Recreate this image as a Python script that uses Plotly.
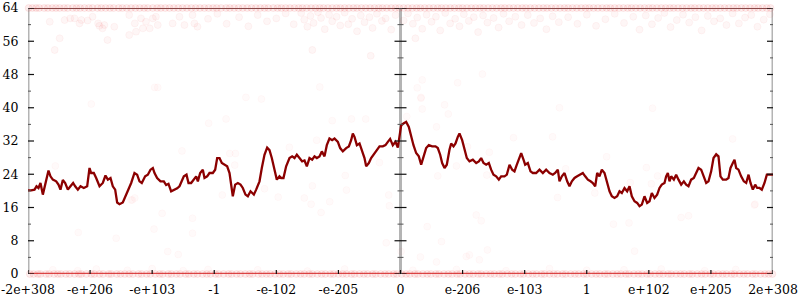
import plotly.graph_objects as go

# ---------------- data ----------------
tick_pos = [-6, -5, -4, -3, -2, -1, 0, 1, 2, 3, 4, 5, 6]
tick_text = ["-2e+308", "-e+206", "-e+103", "-1", "-e-102", "-e-205", "0",
             "e-206", "e-103", "1", "e+102", "e+205", "2e+308"]
y_ticks = [0, 8, 16, 24, 32, 40, 48, 56, 64]
y_minor = [4, 12, 20, 28, 36, 44, 52, 60]

# moving-average line
line_x = [-6.0, -5.949, -5.895, -5.863, -5.831, -5.799, -5.761, -5.734, -5.702, -5.670,
          -5.638, -5.600, -5.546, -5.509, -5.477, -5.439, -5.401, -5.358, -5.316, -5.273,
          -5.240, -5.197, -5.154, -5.101, -5.047, -5.009, -4.983, -4.940, -4.902, -4.848,
          -4.795, -4.752, -4.714, -4.671, -4.634, -4.596, -4.564, -4.526, -4.473, -4.430,
          -4.392, -4.338, -4.285, -4.242, -4.204, -4.167, -4.113, -4.070, -4.027, -3.989,
          -3.962, -3.920, -3.866, -3.812, -3.775, -3.737, -3.694, -3.640, -3.597, -3.560,
          -3.533, -3.490, -3.447, -3.415, -3.372, -3.329, -3.291, -3.264, -3.227, -3.184,
          -3.157, -3.114, -3.077, -3.023, -2.985, -2.953, -2.915, -2.878, -2.835, -2.792,
          -2.754, -2.728, -2.701, -2.663, -2.620, -2.577, -2.540, -2.497, -2.459, -2.416,
          -2.362, -2.325, -2.271, -2.234, -2.191, -2.148, -2.110, -2.073, -2.030, -1.992,
          -1.949,
          -1.922, -1.885, -1.842, -1.788, -1.745, -1.707, -1.670, -1.627, -1.584, -1.546,
          -1.509, -1.466, -1.423, -1.385, -1.348, -1.305, -1.267, -1.224, -1.187, -1.144,
          -1.101, -1.063, -1.009, -0.972, -0.929, -0.875, -0.832, -0.795, -0.768, -0.741,
          -0.703, -0.660, -0.617, -0.580, -0.553, -0.510, -0.473, -0.435, -0.392, -0.338,
          -0.285, -0.242, -0.204, -0.167, -0.124, -0.081, -0.043, -0.016, 0.011, 0.048,
          0.091, 0.134, 0.172, 0.209, 0.252, 0.295, 0.333, 0.370, 0.413, 0.456,
          0.510, 0.564, 0.601, 0.639, 0.671, 0.709, 0.746, 0.789, 0.816, 0.854,
          0.886, 0.923, 0.950, 0.993, 1.031, 1.068, 1.111, 1.165, 1.219, 1.262,
          1.299, 1.337, 1.380, 1.423, 1.460, 1.498, 1.541, 1.584, 1.621, 1.675,
          1.713, 1.756, 1.799, 1.836, 1.874, 1.917, 1.944, 1.981,
          2.008, 2.051, 2.094, 2.132, 2.185, 2.239, 2.293, 2.346, 2.400, 2.454,
          2.491, 2.534, 2.561, 2.599, 2.642, 2.685, 2.722, 2.760, 2.803, 2.846,
          2.883, 2.937, 2.975, 3.018, 3.061, 3.098, 3.136, 3.168, 3.205, 3.243,
          3.286, 3.329, 3.367, 3.404, 3.447, 3.490, 3.528, 3.565, 3.608, 3.651,
          3.689, 3.726, 3.769, 3.812, 3.850, 3.887, 3.930, 3.973, 4.011, 4.048,
          4.091, 4.134, 4.172, 4.209, 4.252, 4.279, 4.306, 4.333, 4.360, 4.403,
          4.440, 4.478, 4.521, 4.564, 4.601, 4.639, 4.682, 4.725, 4.762, 4.800,
          4.843, 4.886, 4.924, 4.961, 5.004, 5.042, 5.085, 5.122, 5.154, 5.192,
          5.246, 5.283, 5.315, 5.353, 5.380, 5.407, 5.444, 5.487, 5.530, 5.568,
          5.606, 5.638, 5.675, 5.713, 5.745, 5.783, 5.820, 5.863, 5.901, 5.944, 6.0]
line_y = [20.1, 20.1, 20.3, 21.1, 20.7, 21.9, 19.1, 20.9, 22.3, 24.9,
          23.5, 22.7, 22.3, 21.5, 20.3, 22.6, 21.9, 20.3, 21.1, 21.9,
          21.1, 20.3, 21.1, 20.7, 21.1, 25.5, 24.3, 24.3, 23.1, 21.1,
          21.9, 23.7, 22.7, 23.1, 21.1, 20.3, 17.2, 16.8, 17.2, 18.7,
          20.3, 21.9, 24.3, 23.9, 22.3, 21.9, 23.5, 23.9, 25.1, 25.5,
          24.3, 23.1, 22.3, 22.3, 21.4, 21.7, 19.9, 20.3, 20.6, 21.1,
          21.9, 23.5, 23.9, 21.9, 21.9, 22.7, 23.5, 22.3, 24.3, 25.1,
          23.1, 23.5, 24.3, 24.3, 25.1, 27.9, 27.9, 26.7, 26.3, 25.9,
          24.3, 21.9, 18.7, 21.5, 21.9, 21.5, 20.7, 19.1, 18.7, 19.9,
          19.1, 20.3, 22.3, 25.5, 28.7, 30.4, 29.8, 27.9, 25.5, 22.7,
          23.5,
          23.1, 23.1, 25.9, 27.9, 28.3, 27.9, 28.7, 27.9, 27.1, 27.3,
          25.9, 27.9, 27.5, 28.3, 27.9, 28.3, 29.5, 28.3, 31.0, 32.6,
          32.2, 32.6, 31.8, 30.3, 29.5, 30.3, 30.7, 32.2, 33.8, 33.0,
          31.0, 31.4, 29.5, 27.9, 25.9, 26.7, 27.9, 28.7, 29.5, 30.7,
          30.7, 31.0, 31.8, 32.5, 31.0, 31.8, 30.4, 33.0, 35.8, 36.2,
          36.6, 35.4, 33.0, 31.0, 29.1, 28.3, 26.3, 27.9, 30.3, 31.0,
          30.7, 30.7, 30.3, 28.7, 26.7, 25.5, 26.3, 29.9, 31.4, 30.7,
          31.4, 33.0, 33.8, 32.2, 30.3, 27.9, 27.1, 27.5, 26.7, 27.1,
          27.9, 26.7, 26.3, 26.7, 25.1, 23.9, 23.5, 22.7, 23.5, 23.5,
          23.9, 26.3, 25.1, 24.7, 26.3, 28.3, 29.1, 27.5,
          26.3, 26.7, 24.7, 24.3, 24.3, 25.1, 24.3, 25.1, 24.3, 23.9,
          24.3, 25.1, 22.3, 23.5, 24.3, 22.3, 21.1, 22.3, 23.1, 23.5,
          23.9, 24.3, 23.5, 22.7, 22.3, 21.9, 21.1, 24.3, 23.5, 25.1,
          24.3, 21.9, 19.9, 18.7, 18.3, 18.7, 19.9, 19.5, 20.7, 19.9,
          21.1, 18.7, 17.5, 17.1, 16.3, 16.7, 18.7, 17.1, 17.5, 19.5,
          18.3, 19.1, 20.7, 21.5, 21.9, 23.5, 24.3, 22.3, 23.5, 22.7,
          23.9, 22.7, 21.5, 22.3, 21.5, 21.1, 22.7, 23.1, 24.3, 25.5,
          25.1, 23.5, 21.9, 22.3, 24.7, 27.9, 28.8, 28.3, 23.5, 22.7,
          22.7, 23.1, 25.5, 26.7, 27.5, 25.5, 25.1, 23.5, 22.3, 21.9,
          23.9, 21.9, 20.3, 21.5, 20.7, 20.7, 20.3, 21.9, 23.9, 23.9, 23.9]

# dense bands of samples at 0 and 64
band_lo_x = [-5.97, -5.91, -5.84, -5.80, -5.71, -5.66, -5.58, -5.52, -5.47, -5.39, -5.33, -5.25,
             -5.18, -5.14, -5.06, -4.98, -4.93, -4.85, -4.79, -4.70, -4.66, -4.57, -4.51, -4.44,
             -4.37, -4.31, -4.22, -4.17, -4.09, -4.03, -3.95, -3.88, -3.83, -3.74, -3.69, -3.61,
             -3.55, -3.46, -3.41, -3.33, -3.27, -3.19, -3.12, -3.06, -2.98, -2.93, -2.85, -2.77,
             -2.72, -2.64, -2.58, -2.50, -2.43, -2.38, -2.29, -2.23, -2.16, -2.10, -2.02, -1.95,
             -1.89, -1.81, -1.76, -1.68, -1.61, -1.55, -1.47, -1.42, -1.34, -1.27, -1.21, -1.13,
             -1.08, -1.00, -0.93, -0.87, -0.79, -0.74, -0.66, -0.59, -0.53, -0.45, -0.40, -0.32,
             -0.25, -0.19, -0.11, -0.06, 0.02, 0.09, 0.15, 0.23, 0.28, 0.36, 0.43, 0.49, 0.57,
             0.62, 0.70, 0.77, 0.83, 0.91, 0.96, 1.04, 1.11, 1.17, 1.25, 1.30, 1.38, 1.45, 1.51,
             1.59, 1.64, 1.72, 1.79, 1.85, 1.93, 1.98, 2.06, 2.13, 2.19, 2.27, 2.32, 2.40, 2.47,
             2.53, 2.61, 2.66, 2.74, 2.81, 2.87, 2.95, 3.00, 3.08, 3.15, 3.21, 3.29, 3.34, 3.42,
             3.49, 3.55, 3.63, 3.68, 3.76, 3.83, 3.89, 3.97, 4.02, 4.10, 4.17, 4.23, 4.31, 4.36,
             4.44, 4.51, 4.57, 4.65, 4.70, 4.78, 4.85, 4.91, 4.99, 5.04, 5.12, 5.19, 5.25, 5.33,
             5.38, 5.46, 5.53, 5.59, 5.67, 5.72, 5.80, 5.87, 5.93, 5.99]
band_hi_x = [-5.99, -5.93, -5.87, -5.82, -5.74, -5.68, -5.61, -5.55, -5.49, -5.42, -5.36, -5.28,
             -5.22, -5.16, -5.09, -5.02, -4.96, -4.88, -4.82, -4.75, -4.68, -4.62, -4.54, -4.48,
             -4.41, -4.34, -4.27, -4.20, -4.13, -4.07, -3.99, -3.92, -3.86, -3.79, -3.72, -3.65,
             -3.58, -3.51, -3.44, -3.37, -3.30, -3.23, -3.16, -3.09, -3.02, -2.96, -2.89, -2.81,
             -2.75, -2.68, -2.61, -2.54, -2.47, -2.40, -2.33, -2.26, -2.19, -2.13, -2.05, -1.98,
             -1.92, -1.85, -1.78, -1.71, -1.64, -1.58, -1.51, -1.44, -1.37, -1.30, -1.24, -1.17,
             -1.10, -1.03, -0.97, -0.90, -0.83, -0.76, -0.70, -0.63, -0.56, -0.49, -0.42, -0.35,
             -0.29, -0.22, -0.15, -0.08, -0.02, 0.05, 0.12, 0.19, 0.26, 0.32, 0.39, 0.46, 0.53,
             0.60, 0.66, 0.73, 0.80, 0.87, 0.94, 1.00, 1.07, 1.14, 1.21, 1.28, 1.34, 1.41, 1.48,
             1.55, 1.62, 1.68, 1.75, 1.82, 1.89, 1.96, 2.02, 2.09, 2.16, 2.23, 2.30, 2.36, 2.43,
             2.50, 2.57, 2.64, 2.70, 2.77, 2.84, 2.91, 2.98, 3.04, 3.11, 3.18, 3.25, 3.32, 3.38,
             3.45, 3.52, 3.59, 3.66, 3.72, 3.79, 3.86, 3.93, 4.00, 4.06, 4.13, 4.20, 4.27, 4.34,
             4.40, 4.47, 4.54, 4.61, 4.68, 4.74, 4.81, 4.88, 4.95, 5.02, 5.08, 5.15, 5.22, 5.29,
             5.36, 5.42, 5.49, 5.56, 5.63, 5.70, 5.76, 5.83, 5.90, 5.96]

# scattered samples near the top
top_x = [-5.65, -5.41, -5.32, -5.25, -5.17, -5.14, -5.04, -4.96, -4.87, -4.85, -4.80, -4.77,
         -4.61, -4.72, -4.37, -4.37, -4.28, -4.26, -4.18, -4.15, -4.10, -4.04, -3.99, -3.94,
         -3.91, -3.67, -3.56, -3.48, -3.35, -3.32, -3.27, -5.49, -5.57,
         -3.10, -2.95, -2.80, -2.60, -2.45, -2.30, -2.15, -2.00, -1.85, -1.72,
         -1.60, -1.55, -1.50, -1.45, -1.40, -1.33, -1.28, -1.22, -1.15, -1.10, -1.03, -0.97,
         -0.90, -0.84, -0.78, -0.70, -0.64, -0.58, -0.50, -0.45, -0.38, -0.30, -0.24, -0.15,
         -0.08, 0.05, 0.12, 0.20, 0.27, 0.35, 0.42, 0.50, 0.57, 0.64, 0.72, 0.80, 0.88, 0.95,
         1.02, 1.10, 1.18, 1.25, 1.33, 1.40, 1.50, 1.58, 1.66, 1.75, 1.85, 1.95, 2.05, 2.15,
         2.25, 2.35, 2.45, 2.55, 2.70, 2.85, 3.00, 3.15, 3.30, 3.45, 3.60, 3.75, 3.85, 3.95,
         4.05, 4.15, 4.25, 4.35, 4.45, 4.55, 4.65, 4.75, 4.85, 4.95, 5.05, 5.15, 5.25, 5.35,
         5.45, 5.55, 5.65, 5.75, 5.85, 5.95,
         -1.42, -0.48, 0.24]
top_y = [60.7, 61.1, 61.5, 61.5, 60.3, 61.1, 61.0, 61.9, 60.3, 59.7, 59.1, 59.9,
         59.5, 56.3, 62.3, 57.5, 60.3, 58.3, 61.5, 59.1, 60.7, 59.1, 61.5, 61.9,
         59.9, 60.3, 61.9, 59.9, 62.3, 60.3, 59.5, 56.7, 53.9,
         61.4, 62.6, 60.2, 61.8, 59.6, 62.3, 60.8, 61.5, 62.7, 60.1,
         62.8, 61.2, 59.5, 62.1, 60.4, 63.0, 61.6, 58.9, 62.4, 60.8, 61.9, 59.8,
         62.9, 60.1, 61.4, 58.4, 62.2, 60.6, 61.8, 59.2, 62.6, 60.9, 61.5, 58.8,
         62.3, 61.0, 62.7, 60.2, 61.7, 59.0, 62.4, 60.7, 61.9, 58.6, 62.8, 60.3, 61.4, 59.6,
         62.5, 60.9, 61.8, 58.2, 62.2, 60.5, 61.6, 59.3, 62.6, 60.8, 61.9, 59.9, 62.3, 60.4,
         61.5, 58.9, 62.0, 60.6, 61.8, 60.2, 62.4, 59.7, 61.3, 62.6, 60.4, 61.9, 58.8, 62.2,
         60.1, 61.6, 62.8, 59.4, 61.1, 62.4, 60.5, 61.8, 58.6, 62.1, 60.8, 61.5, 59.9, 62.7,
         60.3, 61.7, 62.3, 59.5, 61.2, 62.5,
         53.9, 52.5, 56.7]

# isolated samples through the middle of the range
mid_x = [-4.98, -5.56, -3.52, -4.28, -4.34, -2.49, -2.24, -3.09, -2.81, -2.75, -2.66, -2.67,
         -2.19, -2.87, -1.97, -1.55, -1.42, -1.10, -0.79, -0.56, -1.35, -1.79, -0.89, -0.87,
         -0.34, -0.19, -0.18, 0.33, 0.35, 0.71, 0.77, 0.10, 0.58, 1.08, 1.43, 0.90, 0.60,
         1.39, 1.82, 2.45, 2.56, 2.53, 3.13, 4.06, 3.32, 3.96, 3.70, 4.04, 4.14, 5.35, 5.71,
         2.66, -1.44, -1.14, -1.28, 0.43, -0.23, 0.66, 0.01, 0.32, 0.58, 1.06, 1.11, 1.22,
         1.30, 1.40, 1.27, -5.19, -4.58, -4.32, -3.84, -3.97, -3.75, -3.58, -3.35, -3.35,
         3.43, 3.68, 3.77, 4.52, 4.64, 5.70, -3.96, -3.91, -1.30, 0.35, 0.27, 0.92, 1.32, 0.33,
         -5.60, -5.20, -4.90, -4.40, -4.00, -3.50, -3.10, -2.30, -1.50, -0.90, 0.20, 0.90,
         1.70, 2.40, 3.00, 3.60, 4.20, 4.90, 5.40]
mid_y = [40.9, 26.0, 29.6, 18.3, 17.8, 42.5, 42.1, 36.3, 37.3, 29.0, 29.0, 26.2,
         20.5, 19.0, 18.5, 18.3, 21.2, 36.9, 37.3, 37.3, 32.2, 30.5, 23.7, 20.2,
         26.8, 19.0, 16.4, 42.5, 39.7, 40.7, 38.5, 37.9, 35.4, 30.6, 29.3, 26.0, 23.6,
         23.8, 32.8, 33.0, 40.0, 18.4, 19.5, 39.9, 28.2, 25.6, 22.0, 21.7, 23.6, 32.5, 16.8,
         25.3, 16.8, 17.4, 14.8, 11.4, 7.5, 7.8, 5.4, 4.1, 2.9, 4.2, 4.6, 14.2,
         12.8, 5.8, 3.4, 10.0, 8.6, 17.8, 14.6, 10.8, 5.4, 4.7, 9.8, 13.4,
         12.0, 12.3, 5.5, 13.6, 14.0, 16.6, 44.9, 44.9, 45.0, 46.7, 44.8, 46.0, 48.1, 42.3,
         1.0, 0.8, 1.2, 0.9, 1.3, 0.8, 1.1, 1.0, 0.7, 1.2, 0.9, 1.1,
         0.8, 1.3, 0.9, 1.0, 1.2, 0.8, 1.1]

# ---------------- figure ----------------
FONT = "DejaVu Serif"

fig = go.Figure()

for xs, ys, fill, edge in [
    (mid_x, mid_y, "rgba(235,40,40,0.025)", "rgba(235,40,40,0.03)"),
    (top_x, top_y, "rgba(235,40,40,0.045)", "rgba(235,40,40,0.06)"),
    (band_lo_x, [0] * len(band_lo_x), "rgba(235,40,40,0.08)", "rgba(235,40,40,0.10)"),
    (band_hi_x, [64] * len(band_hi_x), "rgba(235,40,40,0.08)", "rgba(235,40,40,0.10)"),
]:
    fig.add_trace(go.Scatter(
        x=xs, y=ys, mode="markers", cliponaxis=False, hoverinfo="skip",
        marker=dict(symbol="circle", size=7, color=fill,
                    line=dict(color=edge, width=0.8)),
    ))

fig.add_trace(go.Scatter(
    x=line_x, y=line_y, mode="lines", cliponaxis=False, hoverinfo="skip",
    line=dict(color="#8b0000", width=2.3),
))

shapes = []
AX_GRAY = "#b4b4b4"
# horizontal lines at 0 and 64 (bottom one saturated by the dense samples)
shapes.append(dict(type="line", xref="x", yref="y", x0=tick_pos[0], x1=tick_pos[-1],
                   y0=y_ticks[0], y1=y_ticks[0], layer="below",
                   line=dict(color="#d94a4a", width=2.5)))
shapes.append(dict(type="line", xref="x", yref="y", x0=tick_pos[0], x1=tick_pos[-1],
                   y0=y_ticks[-1], y1=y_ticks[-1], layer="below",
                   line=dict(color="#7a5050", width=2)))
# vertical axes at left, centre (0) and right
for xv in [tick_pos[0], 0, tick_pos[-1]]:
    shapes.append(dict(type="line", xref="x", yref="y", x0=xv, x1=xv,
                       y0=y_ticks[0], y1=y_ticks[-1], layer="below",
                       line=dict(color=AX_GRAY, width=3)))
    for yv in y_ticks:
        shapes.append(dict(type="line", xref="x", yref="y", xsizemode="pixel",
                           xanchor=xv, x0=-6, x1=6, y0=yv, y1=yv, layer="above",
                           line=dict(color="#111", width=1.2)))
    for yv in y_minor:
        shapes.append(dict(type="line", xref="x", yref="y", xsizemode="pixel",
                           xanchor=xv, x0=-3, x1=3, y0=yv, y1=yv, layer="above",
                           line=dict(color="#555", width=1)))
# x ticks crossing the bottom line
for xv in tick_pos:
    shapes.append(dict(type="line", xref="x", yref="y", ysizemode="pixel",
                       yanchor=0, y0=-4, y1=4, x0=xv, x1=xv, layer="above",
                       line=dict(color="#111", width=1.2)))

fig.update_layout(
    width=800, height=300,
    margin=dict(l=28, r=27, t=8, b=26, pad=0, autoexpand=False),
    paper_bgcolor="white", plot_bgcolor="white",
    showlegend=False,
    font=dict(family=FONT, size=12.5, color="black"),
    shapes=shapes,
    xaxis=dict(range=[tick_pos[0], tick_pos[-1]], tickmode="array",
               tickvals=tick_pos, ticktext=tick_text, automargin=False,
               showgrid=False, zeroline=False, showline=False,
               ticks="outside", ticklen=4, tickcolor="rgba(0,0,0,0)",
               tickfont=dict(family=FONT, size=12.5, color="black")),
    yaxis=dict(range=[y_ticks[0], y_ticks[-1]], tickmode="array",
               tickvals=y_ticks, showgrid=False, zeroline=False, showline=False,
               automargin=False,
               ticks="outside", ticklen=6, tickcolor="rgba(0,0,0,0)",
               tickfont=dict(family=FONT, size=12.5, color="black")),
)

fig.write_html("out.html")
